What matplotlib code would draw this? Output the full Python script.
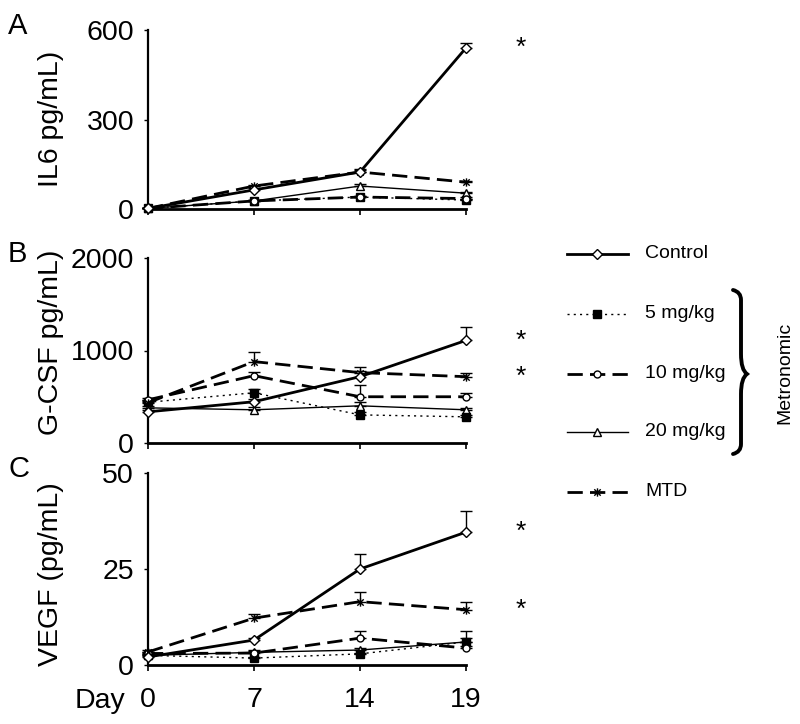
import numpy as np
import matplotlib.pyplot as plt
from matplotlib.path import Path
from matplotlib.patches import PathPatch

plt.rcParams['font.family'] = ['Liberation Sans', 'DejaVu Sans']

# Data
days = ["0", "7", "14", "19"]
groups = ["Control", "5 mg/kg", "10 mg/kg", "20 mg/kg", "MTD"]

# IL6 (pg/mL)
il6_control = [2, 64, 124, 540]
il6_5mg = [2, 27, 40, 30]
il6_10mg = [2, 27, 40, 35]
il6_20mg = [2, 27, 77, 53]
il6_mtd = [2, 77, 124, 90]
il6_err_control = [0, 5, 10, 16]
il6_err_5mg = [0, 3, 4, 3]
il6_err_10mg = [0, 3, 4, 4]
il6_err_20mg = [0, 3, 8, 5]
il6_err_mtd = [0, 5, 8, 5]

# G-CSF (pg/mL)
gcsf_control = [337, 446, 717, 1109]
gcsf_5mg = [440, 543, 304, 283]
gcsf_10mg = [467, 728, 500, 500]
gcsf_20mg = [380, 359, 402, 359]
gcsf_mtd = [435, 880, 761, 717]
gcsf_err_control = [20, 30, 60, 140]
gcsf_err_5mg = [20, 40, 30, 20]
gcsf_err_10mg = [20, 40, 130, 45]
gcsf_err_20mg = [20, 30, 40, 20]
gcsf_err_mtd = [20, 100, 65, 45]

# VEGF (pg/mL)
vegf_control = [2.1, 6.5, 25.0, 34.6]
vegf_5mg = [2.5, 1.8, 2.9, 6.0]
vegf_10mg = [3.0, 3.1, 7.0, 4.4]
vegf_20mg = [2.5, 3.3, 3.9, 6.0]
vegf_mtd = [3.4, 12.2, 16.5, 14.4]
vegf_err_control = [0.3, 0.5, 3.8, 5.4]
vegf_err_5mg = [0.3, 0.3, 0.3, 1.0]
vegf_err_10mg = [0.3, 0.5, 1.9, 0.5]
vegf_err_20mg = [0.3, 0.5, 0.5, 2.9]
vegf_err_mtd = [0.5, 1.2, 2.4, 1.9]

# significance stars: series with a star at day 19
stars_a = [il6_control]
stars_b = [gcsf_control, gcsf_mtd]
stars_c = [vegf_control, vegf_mtd]

# X + vertical bar marker used for MTD
mtd_marker = Path([(-1, -1), (1, 1), (-1, 1), (1, -1), (0, -1.3), (0, 1.3)],
                  [Path.MOVETO, Path.LINETO, Path.MOVETO, Path.LINETO,
                   Path.MOVETO, Path.LINETO])

styles = {
    "Control": dict(ls="-", lw=2.0, marker="D", ms=5, mfc="white"),
    "5 mg/kg": dict(ls=(0, (1.5, 3)), lw=1.0, marker="s", ms=5.5, mfc="black"),
    "10 mg/kg": dict(ls=(0, (5.5, 2.6)), lw=2.0, marker="o", ms=5, mfc="white"),
    "20 mg/kg": dict(ls="-", lw=1.0, marker="^", ms=6, mfc="white"),
    "MTD": dict(ls=(0, (5.5, 2.6)), lw=2.0, marker=mtd_marker, ms=6, mfc="none"),
}

FS = 20.5

fig = plt.figure(figsize=(8.0, 7.24), dpi=100)
W, H = 800, 724


def add_panel(y0_px, y1_px):
    # y0_px: pixel row of zero line, y1_px: pixel row of top
    ax = fig.add_axes([148 / W, 1 - y0_px / H, 318 / W, (y0_px - y1_px) / H])
    return ax


def draw_panel(ax, series, errs, ymax, yticks, stars, label, letter, label_y):
    x = np.arange(len(days))
    order = ["20 mg/kg", "5 mg/kg", "10 mg/kg", "MTD", "Control"]
    for name in order:
        i = groups.index(name)
        st = styles[name]
        y = np.array(series[i], dtype=float)
        e = np.array(errs[i], dtype=float)
        ax.errorbar(x, y, yerr=[np.zeros_like(e), e], fmt="none", ecolor="black",
                    elinewidth=1, capsize=4, capthick=1, clip_on=False, zorder=2)
        ax.plot(x, y, color="black", linestyle=st["ls"], lw=st["lw"], marker=st["marker"],
                ms=st["ms"], mfc=st["mfc"], mec="black", mew=1.0, clip_on=False, zorder=3)
    for s in stars:
        ax.text(3.52, s[-1], "*", fontsize=19, ha="center", va="center")
    ax.set_xlim(0, 3)
    ax.set_ylim(0, ymax)
    ax.set_xticks(x)
    ax.set_yticks(yticks)
    ax.set_yticklabels([str(t) for t in yticks], fontsize=FS)
    for sp in ["top", "right"]:
        ax.spines[sp].set_visible(False)
    ax.spines["left"].set_linewidth(1.6)
    ax.spines["bottom"].set_linewidth(2.0)
    ax.tick_params(axis="y", length=3, width=1, pad=7)
    ax.tick_params(axis="x", length=4, width=1.2, pad=12)
    fig.text(51 / W, 1 - label_y / H, label, rotation=90, ha="center", va="center", fontsize=FS)
    bb = ax.get_position()
    fig.text(8 / W, bb.y1 + 4 / H, letter, fontsize=21, ha="left", va="center")


ax_a = add_panel(209, 30)
draw_panel(ax_a, [il6_control, il6_5mg, il6_10mg, il6_20mg, il6_mtd],
           [il6_err_control, il6_err_5mg, il6_err_10mg, il6_err_20mg, il6_err_mtd],
           600, [0, 300, 600], stars_a, "IL6 pg/mL)", "A", 119)
ax_a.set_xticklabels([])

ax_b = add_panel(443, 258)
draw_panel(ax_b, [gcsf_control, gcsf_5mg, gcsf_10mg, gcsf_20mg, gcsf_mtd],
           [gcsf_err_control, gcsf_err_5mg, gcsf_err_10mg, gcsf_err_20mg, gcsf_err_mtd],
           2000, [0, 1000, 2000], stars_b, "G-CSF pg/mL)", "B", 342)
ax_b.set_xticklabels([])

ax_c = add_panel(665, 473)
draw_panel(ax_c, [vegf_control, vegf_5mg, vegf_10mg, vegf_20mg, vegf_mtd],
           [vegf_err_control, vegf_err_5mg, vegf_err_10mg, vegf_err_20mg, vegf_err_mtd],
           50, [0, 25, 50], stars_c, "VEGF (pg/mL)", "C", 574)
ax_c.set_xticklabels(days, fontsize=FS)
fig.text(100 / W, 1 - 701 / H, "Day", fontsize=FS, ha="center", va="center")

# legend drawn in a pixel-space overlay
lg = fig.add_axes([0, 0, 1, 1])
lg.set_xlim(0, W)
lg.set_ylim(H, 0)
lg.axis("off")
leg_rows = [254, 314, 374, 432, 492]
for name, yy in zip(groups, leg_rows):
    st = styles[name]
    lg.plot([567, 628], [yy, yy], color="black", linestyle=st["ls"], lw=st["lw"])
    lg.plot([597], [yy], color="black", linestyle="none", marker=st["marker"], ms=st["ms"],
            mfc=st["mfc"] if st["mfc"] != "none" else "white", mec="black", mew=1.0)
    lg.text(645, yy, name, fontsize=14, ha="left", va="center")

# curly brace for the metronomic doses
bx, btop, bbot, bmid = 733, 290, 454, 374
brace = Path([(bx, btop), (bx + 8, btop + 2), (bx + 8, btop + 10), (bx + 8, btop + 30),
              (bx + 8, bmid - 20), (bx + 8, bmid - 4), (bx + 14, bmid),
              (bx + 8, bmid + 4), (bx + 8, bmid + 20), (bx + 8, bbot - 30),
              (bx + 8, bbot - 10), (bx + 8, bbot - 2), (bx, bbot)],
             [Path.MOVETO, Path.CURVE3, Path.CURVE3, Path.LINETO, Path.LINETO,
              Path.CURVE3, Path.CURVE3, Path.CURVE3, Path.CURVE3, Path.LINETO,
              Path.LINETO, Path.CURVE3, Path.CURVE3])
lg.add_patch(PathPatch(brace, fill=False, lw=2.8, edgecolor="black", capstyle="round"))
lg.text(785, 373, "Metronomic", rotation=90, fontsize=14, ha="center", va="center")

fig.savefig("out.png", dpi=100)
